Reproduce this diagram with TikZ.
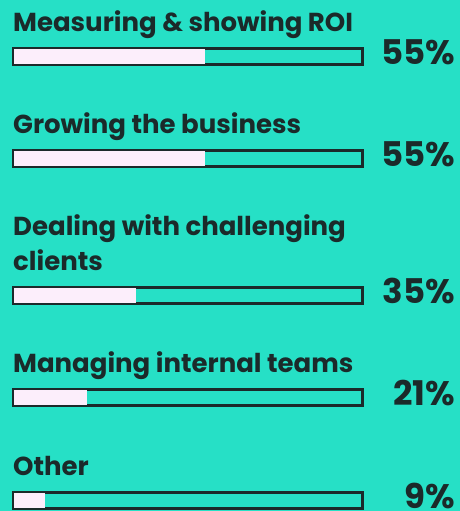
\documentclass[tikz,border=0pt]{standalone}
\usepackage{fontspec}
\setmainfont{Poppins}
\usepackage{tikz}

\definecolor{teal}{HTML}{26E0C6}
\definecolor{ink}{HTML}{1B2A2A}
\definecolor{blush}{HTML}{FCEEFB}

\tikzset{
    label/.style={anchor=south west, inner sep=0pt, text depth=0pt, text=ink, font=\fontsize{26}{35}\selectfont\bfseries, align=left},
    percent/.style={anchor=base east, inner sep=0pt, text=ink, font=\fontsize{34}{34}\selectfont\bfseries},
    barframe/.style={draw=ink, line width=2pt, inner sep=0pt, minimum width=348pt, minimum height=15pt, anchor=west}
}

\begin{document}
\begin{tikzpicture}[x=1pt, y=-1pt]
    \fill[teal] (0,0) rectangle (460,511);
    \useasboundingbox (0,0) rectangle (460,511);
    % Bars
    \foreach \name/\p/\c/\i in {{Measuring \& showing ROI}/55/56.5/1,
                                {Growing the business}/55/158.5/2,
                                {Dealing with challenging\\clients}/35/295/3,
                                {Managing internal teams}/21/397.5/4,
                                {Other}/9/500/5} {
        \node[barframe] (Bar-\i) at (13,\c) {};
        \fill[blush] ([xshift=1pt,yshift=-1pt]Bar-\i.north west)
            rectangle ([xshift=1pt+\p*3.48pt,yshift=1pt]Bar-\i.south west);
        \draw[ink, line width=2pt] (Bar-\i.north west) rectangle (Bar-\i.south east);
        \node[label, yshift=16pt] (Label-\i) at (Bar-\i.north west) {\name};
        \node[percent] (Percent-\i) at (455,\c+8) {\p\%};
    }
\end{tikzpicture}
\end{document}
